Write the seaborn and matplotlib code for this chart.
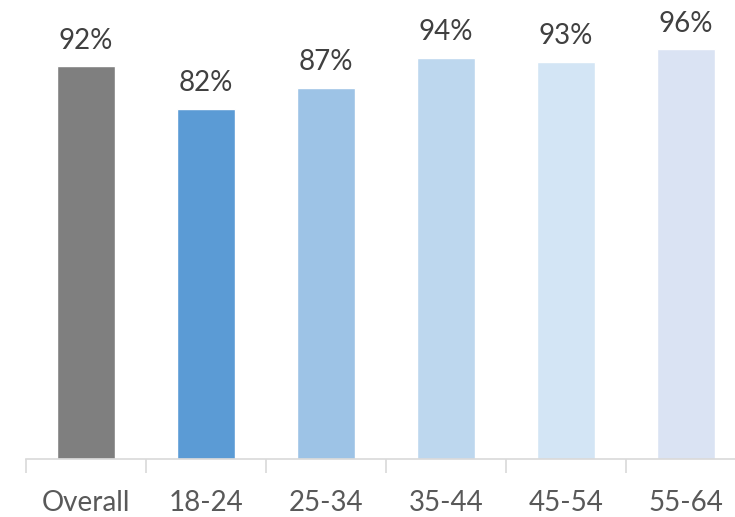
import pandas as pd
import seaborn as sns
import matplotlib.pyplot as plt
from matplotlib.ticker import FixedLocator

# Chart data
groups = ["Overall", "18-24", "25-34", "35-44", "45-54", "55-64"]
shares = [92, 82, 87, 94, 93, 96]
bar_colors = ["#7f7f7f", "#5b9bd5", "#9dc3e6", "#bdd7ee", "#d3e5f5", "#dae3f3"]

df = pd.DataFrame({"group": groups, "share": shares})

sns.set_style("white")
plt.rcParams["font.family"] = ["Lato", "DejaVu Sans"]

fig = plt.figure(figsize=(7.35, 5.17), dpi=100)
ax = fig.add_axes([26 / 735, 58 / 517, 720 / 735, 459 / 517])

sns.barplot(
    data=df,
    x="group",
    y="share",
    hue="group",
    palette=bar_colors,
    width=0.483,
    legend=False,
    saturation=1,
    ax=ax,
)

# Percentage labels above the bars
for i, v in enumerate(shares):
    ax.annotate(
        f"{v}%",
        (i, v),
        xytext=(0, 9),
        textcoords="offset points",
        ha="center",
        va="bottom",
        fontsize=20,
        color="#404040",
    )

ax.set_xlim(-0.5, 5.5)
ax.set_ylim(0, 107.5)
ax.set_xlabel("")
ax.set_ylabel("")
ax.set_yticks([])

for side in ["left", "right", "top"]:
    ax.spines[side].set_visible(False)
ax.spines["bottom"].set_color("#d9d9d9")
ax.spines["bottom"].set_linewidth(1.2)

# Category separators as minor ticks
ax.xaxis.set_minor_locator(FixedLocator([i - 0.5 for i in range(len(groups) + 1)]))
ax.tick_params(axis="x", which="minor", bottom=True, length=10, width=1.2,
               color="#d9d9d9", direction="out")
ax.tick_params(axis="x", which="major", bottom=False, length=0, pad=22,
               labelsize=20, labelcolor="#595959")

fig.savefig("out.png", dpi=100)
